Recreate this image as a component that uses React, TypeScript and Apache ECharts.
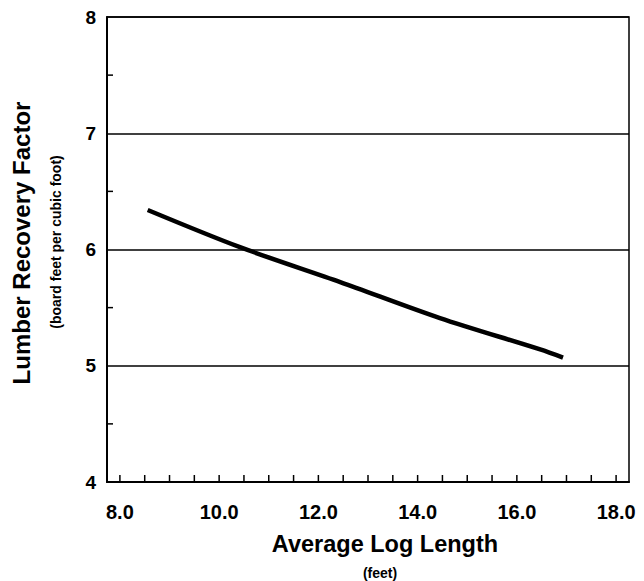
import React, { useEffect, useRef } from "react";
import * as echarts from "echarts";

const logLength = [8.56, 10.42, 12.44, 14.45, 16.47, 16.93];
const recoveryFactor = [6.34, 6.02, 5.72, 5.41, 5.14, 5.07];
const xLabelValues = [8, 10, 12, 14, 16, 18];
const xTickValues = [8, 8.5, 9, 9.5, 10, 10.5, 11, 11.5, 12, 12.5, 13, 13.5, 14, 14.5, 15, 15.5, 16, 16.5, 17, 17.5, 18];
const yTickValues = [4.5, 5.5, 6.5, 7.5];

const X_MIN = 7.74;
const Y_MIN = 4;
const FONT = "'Liberation Sans', Arial, Helvetica, sans-serif";

export default function App() {
  const ref = useRef<HTMLDivElement>(null);
  useEffect(() => {
    if (!ref.current) return;
    const chart = echarts.init(ref.current, null, { renderer: "svg" });
    chart.setOption({
      animation: false,
      backgroundColor: "#fff",
      grid: {
        left: 107,
        right: 15,
        top: 17,
        bottom: 99,
        show: true,
        borderColor: "#000",
        borderWidth: 1.5,
      },
      xAxis: {
        type: "value",
        min: X_MIN,
        max: 18.26,
        axisLine: { show: true, lineStyle: { color: "#000", width: 2 } },
        axisTick: { show: false },
        axisLabel: {
          customValues: xLabelValues,
          formatter: (v: number) => v.toFixed(1),
          color: "#000",
          fontFamily: FONT,
          fontWeight: "bold",
          fontSize: 20,
          margin: 20,
        },
        splitLine: { show: false },
      },
      yAxis: {
        type: "value",
        min: Y_MIN,
        max: 8,
        interval: 1,
        axisLine: { show: true, lineStyle: { color: "#000", width: 2 } },
        axisTick: { show: false },
        axisLabel: {
          color: "#000",
          fontFamily: FONT,
          fontWeight: "bold",
          fontSize: 19,
          margin: 11,
        },
        splitLine: { show: true, lineStyle: { color: "#000", width: 1.5 } },
      },
      series: [
        {
          type: "custom",
          silent: true,
          data: xTickValues.map((v) => [v, Y_MIN]),
          renderItem: (params: any, api: any) => {
            const p = api.coord([api.value(0), api.value(1)]);
            return {
              type: "rect",
              shape: { x: p[0] - 0.75, y: p[1] - 7, width: 1.5, height: 7 },
              style: { fill: "#000" },
            };
          },
        },
        {
          type: "custom",
          silent: true,
          data: yTickValues.map((v) => [X_MIN, v]),
          renderItem: (params: any, api: any) => {
            const p = api.coord([api.value(0), api.value(1)]);
            return {
              type: "rect",
              shape: { x: p[0], y: p[1] - 0.75, width: 6, height: 1.5 },
              style: { fill: "#000" },
            };
          },
        },
        {
          type: "line",
          data: logLength.map((x, i) => [x, recoveryFactor[i]]),
          smooth: 0.3,
          symbol: "none",
          lineStyle: { color: "#000", width: 4.5, cap: "butt" },
        },
      ],
      graphic: [
        {
          type: "text",
          x: 21,
          y: 243,
          rotation: Math.PI / 2,
          style: {
            text: "Lumber Recovery Factor",
            fontFamily: FONT,
            fontWeight: "bold",
            fontSize: 24,
            fill: "#000",
            align: "center",
            verticalAlign: "middle",
          },
        },
        {
          type: "text",
          x: 56,
          y: 242,
          rotation: Math.PI / 2,
          style: {
            text: "(board feet per cubic foot)",
            fontFamily: FONT,
            fontWeight: "bold",
            fontSize: 14,
            fill: "#000",
            align: "center",
            verticalAlign: "middle",
          },
        },
        {
          type: "text",
          x: 385,
          y: 544,
          style: {
            text: "Average Log Length",
            fontFamily: FONT,
            fontWeight: "bold",
            fontSize: 23.5,
            fill: "#000",
            align: "center",
            verticalAlign: "middle",
          },
        },
        {
          type: "text",
          x: 380,
          y: 573,
          style: {
            text: "(feet)",
            fontFamily: FONT,
            fontWeight: "bold",
            fontSize: 14,
            fill: "#000",
            align: "center",
            verticalAlign: "middle",
          },
        },
      ],
    });
    return () => chart.dispose();
  }, []);
  return <div ref={ref} style={{ width: 644, height: 581, position: "absolute", left: 0, top: 0 }} />;
}
